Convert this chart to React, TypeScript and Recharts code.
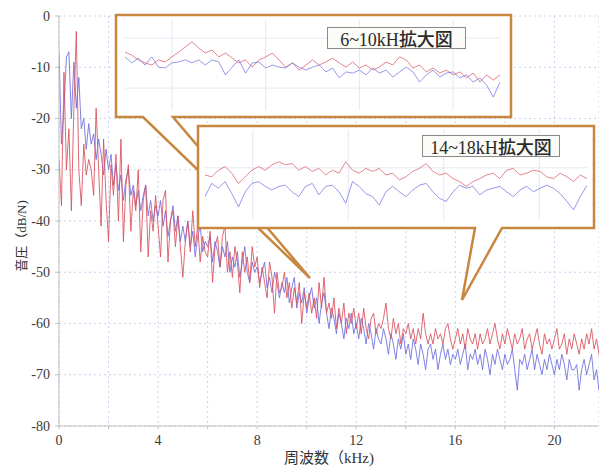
import { LineChart, Line, XAxis, YAxis, CartesianGrid, ReferenceLine } from "recharts";

// 音圧 (dB/N), 0.1 kHz steps from 0 to 22 kHz
const redMain = [
  -28, -37, -11, -30, -22, -38, -18, -3, -30, -37,
  -25, -31, -28, -30, -35, -18, -30, -41, -24, -36,
  -44, -29, -35, -27, -40, -24, -44, -33, -29, -42,
  -34, -38, -30, -46, -36, -33, -47, -38, -42, -35,
  -41, -47, -36, -34, -48, -40, -38, -45, -39, -45,
  -51, -44, -40, -46, -38, -45, -41, -48, -43, -46,
  -47, -42, -52, -45, -43, -49, -43, -41, -50, -46,
  -51, -45, -48, -54, -46, -50, -47, -52, -45, -49,
  -47, -53, -49, -52, -55, -48, -51, -58, -50, -54,
  -53, -50, -55, -52, -57, -53, -56, -52, -60, -54,
  -57, -54, -58, -55, -59, -52, -57, -51, -58, -56,
  -59, -55, -61, -57, -60, -56, -62, -58, -60, -57,
  -61, -58, -62, -57, -61, -63, -59, -58, -62, -60,
  -61, -59, -56, -61, -63, -59, -62, -60, -64, -61,
  -62, -60, -63, -61, -64, -61, -63, -58, -62, -64,
  -62, -64, -61, -63, -62, -64, -61, -60, -63, -65,
  -63, -61, -64, -62, -65, -61, -63, -64, -62, -65,
  -62, -64, -63, -61, -64, -62, -60, -63, -65, -62,
  -64, -61, -63, -65, -62, -64, -63, -61, -65, -63,
  -62, -65, -63, -61, -64, -66, -62, -64, -63, -65,
  -63, -61, -65, -64, -62, -66, -63, -65, -62, -64,
  -66, -63, -65, -62, -64, -61, -65, -63, -66, -64,
  -65,
];

const blueMain = [
  -7, -25, -18, -8, -7, -20, -9, -18, -12, -22,
  -20, -26, -21, -25, -23, -28, -24, -27, -31, -26,
  -30, -27, -33, -29, -34, -31, -36, -32, -30, -35,
  -33, -37, -34, -38, -35, -33, -39, -36, -40, -37,
  -39, -36, -41, -38, -43, -40, -37, -42, -39, -44,
  -41, -44, -40, -45, -42, -47, -43, -41, -46, -44,
  -45, -43, -48, -44, -46, -49, -45, -47, -44, -50,
  -47, -49, -46, -51, -48, -45, -50, -52, -48, -50,
  -49, -52, -50, -48, -53, -51, -54, -50, -52, -55,
  -52, -54, -51, -56, -53, -51, -57, -54, -56, -53,
  -58, -55, -53, -57, -55, -60, -56, -54, -58, -61,
  -57, -59, -62, -58, -60, -63, -59, -61, -58, -62,
  -60, -63, -59, -61, -64, -60, -62, -65, -61, -63,
  -64, -61, -63, -66, -62, -64, -67, -63, -65, -62,
  -66, -64, -67, -63, -65, -68, -64, -66, -69, -65,
  -64, -67, -65, -69, -66, -64, -67, -65, -68, -66,
  -67, -65, -68, -66, -64, -69, -66, -67, -65, -68,
  -66, -69, -65, -67, -70, -66, -68, -65, -67, -69,
  -66, -68, -67, -65, -69, -73, -67, -68, -66, -69,
  -67, -65, -69, -66, -68, -70, -67, -69, -66, -68,
  -70, -67, -69, -66, -68, -71, -67, -69, -69, -68,
  -73, -69, -67, -70, -68, -66, -71, -69, -73, -68,
  -67,
];

// 6~10kHz 拡大図
const zoomARed = [
  -46.7, -47.7, -49.3, -50.3, -51, -49.3, -50, -48.3, -46.7, -45,
  -43.3, -45.3, -47, -46, -48.3, -47, -48.7, -50.3, -49.3, -51.7,
  -49.3, -48.3, -47, -49.3, -51.7, -50.3, -52.7, -51, -49.3, -51,
  -50, -48.7, -50.3, -51.7, -50, -52, -51, -52.7, -51.7, -50,
  -51, -48.3, -49.3, -52, -51, -53.3, -52, -53.7, -52.7, -54.3,
  -53.3, -55.3, -53.7, -56.7, -54.3, -56, -54.3,
];
const zoomABlue = [
  -48.3, -50.3, -48.7, -51, -48.3, -51.7, -52, -50.3, -50, -49.3,
  -50.3, -49.3, -51, -49.3, -50, -54.3, -51.7, -49.3, -53.7, -50.3,
  -50, -52, -51, -51.7, -52, -50.3, -51.7, -52.7, -51.7, -51,
  -53.3, -52, -55.3, -53.3, -53.7, -52.7, -54.3, -52, -53.7, -52.7,
  -55, -53.3, -51.7, -53.3, -56.7, -54.3, -52.7, -55, -53.7, -53.3,
  -55.3, -54.3, -56.7, -55.3, -57.7, -61.7, -56.7,
];

// 14~18kHz 拡大図
const zoomBRed = [
  -64.5, -64.8, -63.7, -63.1, -64.2, -65.9, -64.8, -63.7, -63.1, -63.7,
  -62.8, -62.3, -62.8, -62.6, -63.7, -63.1, -63.9, -63.4, -64.5, -63.7,
  -64.2, -62.3, -63.7, -64.2, -63.4, -63.9, -63.4, -64.5, -64.2, -65.3,
  -64.8, -63.9, -63.4, -62.6, -63.9, -64.5, -64.2, -65.1, -65.6, -66.4,
  -65.6, -65.1, -64.5, -64.2, -65.1, -63.7, -63.4, -64.5, -64.2, -63.7,
  -63.9, -64.8, -65.1, -64.2, -64.8, -65.6, -64.5, -65.1,
];
const zoomBBlue = [
  -68.1, -65.9, -66.7, -65.6, -67.6, -69.8, -67.3, -65.9, -65.6, -66.4,
  -67.0, -66.4, -66.2, -67.3, -68.1, -66.4, -65.9, -67.8, -66.4, -66.2,
  -67.3, -69.2, -65.6, -66.4, -67.6, -68.1, -69.5, -67.3, -66.4, -67.3,
  -68.1, -67.0, -66.2, -65.9, -67.3, -68.4, -68.9, -67.3, -66.2, -66.7,
  -66.4, -67.8, -67.0, -66.7, -66.4, -67.3, -68.1, -67.0, -66.4, -67.3,
  -66.7, -66.2, -66.7, -67.6, -68.9, -70.3, -68.1, -66.2,
];

const xTicks = [0, 2, 4, 6, 8, 10, 12, 14, 16, 18, 20];
const yTicks = [0, -10, -20, -30, -40, -50, -60, -70, -80];
const zoomAGridX = [6.5, 7.5, 8.5, 9.5];
const zoomAGridY = [-42, -58.7];
const zoomBGridX = [14.5, 15.5, 16.5, 17.5];
const zoomBGridY = [-63.3];

const mainData = redMain.map((v, i) => ({ f: i / 10, red: v, blue: blueMain[i] }));
const zoomAData = zoomARed.map((v, i) => ({
  f: 6 + (i * 4) / (zoomARed.length - 1),
  red: v,
  blue: zoomABlue[i],
}));
const zoomBData = zoomBRed.map((v, i) => ({
  f: 14 + (i * 4) / (zoomBRed.length - 1),
  red: v,
  blue: zoomBBlue[i],
}));

const RED = "#d8505c";
const BLUE = "#6c6ce0";
const CALLOUT = "#c8873e";
const GRID = "#c9d2ef";
const SERIF = '"Liberation Serif", "Noto Sans CJK JP", serif';

const labelBox = (left: number, top: number, width: number) => ({
  position: "absolute" as const,
  left,
  top,
  width,
  height: 22,
  border: "1.5px solid #8a8a8a",
  background: "#fbfbf7",
  boxSizing: "border-box" as const,
  textAlign: "center" as const,
  fontSize: 18,
  lineHeight: "20px",
  color: "#2a2a2a",
  whiteSpace: "nowrap" as const,
});

// tick text drawn by hand so the serif face is kept
const SerifTick = ({ x, y, payload, textAnchor, hideOdd }: any) => {
  const v = payload.value as number;
  if (hideOdd && v % 4 !== 0) return null;
  return (
    <text
      x={x}
      y={y}
      textAnchor={textAnchor}
      dominantBaseline={hideOdd ? "hanging" : "central"}
      fontSize={14}
      fill="#3a3a3a"
      style={{ fontFamily: '"Liberation Serif", serif' }}
    >
      {v}
    </text>
  );
};

export default function App() {
  return (
    <div
      style={{
        position: "absolute",
        left: 0,
        top: 0,
        width: 599,
        height: 468,
        overflow: "hidden",
        background: "#fff",
        fontFamily: SERIF,
      }}
    >
      <LineChart width={599} height={468} data={mainData} margin={{ top: 16, right: 0, bottom: 0, left: 0 }}>
        <CartesianGrid stroke={GRID} strokeDasharray="2 3" />
        <XAxis
          dataKey="f"
          type="number"
          domain={[0, 21.8]}
          ticks={xTicks}
          allowDataOverflow
          height={42}
          stroke="#c0c0c0"
          tickSize={3}
          tickMargin={6}
          tick={(p: any) => <SerifTick {...p} hideOdd />}
        />
        <YAxis
          type="number"
          domain={[-80, 0]}
          ticks={yTicks}
          width={59}
          stroke="#c0c0c0"
          tickSize={4}
          tickMargin={5}
          tick={(p: any) => <SerifTick {...p} />}
        />
        <Line dataKey="blue" type="linear" stroke={BLUE} strokeWidth={1} strokeOpacity={0.85} dot={false} isAnimationActive={false} />
        <Line dataKey="red" type="linear" stroke={RED} strokeWidth={1} strokeOpacity={0.85} dot={false} isAnimationActive={false} />
      </LineChart>

      <svg width={599} height={468} style={{ position: "absolute", left: 0, top: 0 }}>
        <text x={21} y={236} transform="rotate(-90 21 236)" textAnchor="middle" dominantBaseline="central" fontSize={13} fill="#333" fontFamily={SERIF}>
          音圧（dB/N)
        </text>
        <text x={329} y={463} textAnchor="middle" fontSize={15} fill="#333" fontFamily={SERIF}>
          周波数（kHz)
        </text>
        <path d="M116 15 H511 V117 H173 L310 278 L143 117 H116 Z" fill="#fff" stroke={CALLOUT} strokeWidth={2.5} />
      </svg>

      <div style={{ position: "absolute", left: 125, top: 20 }}>
        <LineChart width={375} height={90} data={zoomAData} margin={{ top: 0, right: 0, bottom: 0, left: 0 }}>
          <XAxis dataKey="f" type="number" domain={[6, 10]} hide />
          <YAxis type="number" domain={[-66, -36]} hide />
          {zoomAGridX.map((x) => (
            <ReferenceLine key={"ax" + x} x={x} stroke="#e4e8f4" />
          ))}
          {zoomAGridY.map((y) => (
            <ReferenceLine key={"ay" + y} y={y} stroke="#e4e8f4" />
          ))}
          <Line dataKey="red" type="linear" stroke={RED} strokeWidth={1} strokeOpacity={0.7} dot={false} isAnimationActive={false} />
          <Line dataKey="blue" type="linear" stroke={BLUE} strokeWidth={1} strokeOpacity={0.7} dot={false} isAnimationActive={false} />
        </LineChart>
      </div>
      <div style={labelBox(327, 27, 139)}>
        6~10kH<span style={{ fontFamily: '"Noto Sans CJK JP"', fontWeight: 500 }}>拡大図</span>
      </div>

      <svg width={599} height={468} style={{ position: "absolute", left: 0, top: 0 }}>
        <path d="M198 126 H594 V228 H502 L462 300 L475 228 H198 Z" fill="#fff" stroke={CALLOUT} strokeWidth={2.5} />
      </svg>

      <div style={{ position: "absolute", left: 205, top: 130 }}>
        <LineChart width={382} height={90} data={zoomBData} margin={{ top: 0, right: 0, bottom: 0, left: 0 }}>
          <XAxis dataKey="f" type="number" domain={[14, 18]} hide />
          <YAxis type="number" domain={[-72, -57]} hide />
          {zoomBGridX.map((x) => (
            <ReferenceLine key={"bx" + x} x={x} stroke="#e4e8f4" />
          ))}
          {zoomBGridY.map((y) => (
            <ReferenceLine key={"by" + y} y={y} stroke="#e4e8f4" />
          ))}
          <Line dataKey="red" type="linear" stroke={RED} strokeWidth={1} strokeOpacity={0.7} dot={false} isAnimationActive={false} />
          <Line dataKey="blue" type="linear" stroke={BLUE} strokeWidth={1} strokeOpacity={0.7} dot={false} isAnimationActive={false} />
        </LineChart>
      </div>
      <div style={labelBox(422, 135, 138)}>
        14~18kH<span style={{ fontFamily: '"Noto Sans CJK JP"', fontWeight: 500 }}>拡大図</span>
      </div>
    </div>
  );
}
